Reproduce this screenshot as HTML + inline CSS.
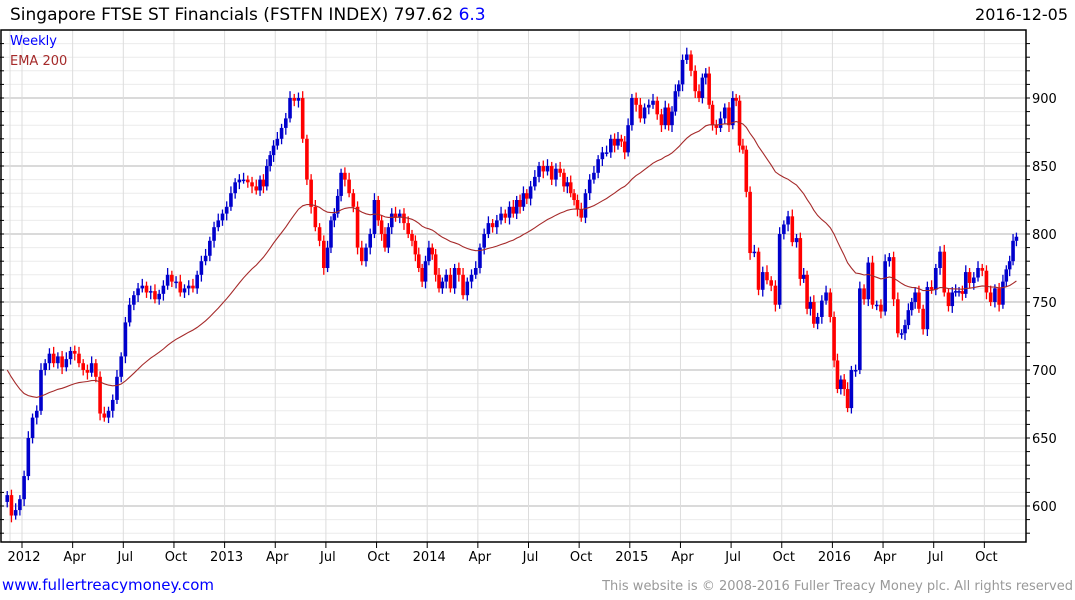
<!DOCTYPE html>
<html><head><meta charset="utf-8"><style>
body{margin:0;background:#fff;width:1075px;height:600px;overflow:hidden;font-family:"DejaVu Sans","Liberation Sans",sans-serif}
svg{display:block}
</style></head><body>
<svg id="chart" width="1075" height="600" viewBox="0 0 1075 600" xmlns="http://www.w3.org/2000/svg">
<text x="10" y="20" font-size="17" fill="#000">Singapore FTSE ST Financials (FSTFN INDEX) 797.62 <tspan fill="#0000ff">6.3</tspan></text>
<text x="1068" y="20" font-size="16" fill="#000" text-anchor="end">2016-12-05</text>
<g id="grid"></g>
<g id="marks"></g>
<rect x="1" y="30" width="1025" height="512" fill="none" stroke="#000" stroke-width="1.5"/>
<g id="axes"></g>
<text x="10" y="45" font-size="13" fill="#0000ff">Weekly</text>
<text x="10" y="65" font-size="13" fill="#a52a2a">EMA 200</text>
<text x="2" y="590" font-size="15" fill="#0000ff">www.fullertreacymoney.com</text>
<text x="1073" y="590" font-size="13" fill="#999" text-anchor="end">This website is © 2008-2016 Fuller Treacy Money plc. All rights reserved</text>
</svg>
<script>
// weekly closes grouped by month, starting Dec 2011
const monthCloses=[
[608,593,597,605],
[622,650,665,670],[700,705,712,705],[710,702,708,714],[712,705,700,698],[705,695,668,665],[670,678,695,710],
[735,748,755,760],[762,757,758,752],[756,762,770,765],[765,757,760,762],[760,770,780,784],[795,805,810,815],
[820,830,838,840],[840,838,835,832],[840,835,850,858,865],[870,878,885,900],[898,900,870,840],[820,805,795,775],
[790,810,815,828,845],[840,830,820,790],[780,790,800,825],[810,800,790,805,815],[812,815,808,800],[795,785,775,765,780],
[790,785,770,760,765],[770,760,775,770],[755,765,770,775],[790,800,808,805],[810,815,812,820],[815,825,820,830,826],
[835,842,850,846],[850,840,848,845],[835,838,830,825,818],[812,830,840,845],[855,860,860,870],[865,870,868,860,880],
[900,895,885,893],[895,898,888,880],[893,880,890,905,910],[928,932,920,905],[900,915,918,895,880],[878,885,893,880],
[900,898,865,862,831],[786,787,759,772],[766,762,748,800],[807,813,794,797],[767,770,745,750,734],[739,751,757,739],
[707,686,693,686,672],[700,700,760,752],[779,748,748,743],[780,783,752,727],[727,733,744,750,757],[745,730,761,759],
[775,787,757,747],[757,758,758,756,772],[764,768,775,773],[757,750,760,748],[765,774,780,795,798]
];
const firstOpen=603;
const emaSeed=700;
const yTicks=[600,650,700,750,800,850,900];
const xTickLabels=["2012","Apr","Jul","Oct","2013","Apr","Jul","Oct","2014","Apr","Jul","Oct","2015","Apr","Jul","Oct","2016","Apr","Jul","Oct"];

const NS="http://www.w3.org/2000/svg";
const PL=1,PR=1026,PT=30,PB=542,MW=50.65/3;
function y(v){return 98+(900-v)*68/50;}
function xq(q){return 22+q*50.65;}
function xm(m,j,len){return 22+(m-1)*MW+(j+0.5)*MW/len;} // m=0 is Dec 2011
function mk(tag,attrs,parent){const e=document.createElementNS(NS,tag);for(const k in attrs)e.setAttribute(k,attrs[k]);parent.appendChild(e);return e;}
const grid=document.getElementById('grid'),marks=document.getElementById('marks'),axes=document.getElementById('axes');
for(let v=580;v<=940;v+=10){const yy=y(v);if(yy<PT||yy>PB)continue;
 const major=v%50===0;
 const l=mk('line',{x1:PL,x2:PR,y1:yy,y2:yy,stroke:major?'#c4c4c4':'#ececec','stroke-width':major?1.3:1},grid);
 
 
 const t=mk('line',{x1:PR,x2:PR+4,y1:yy,y2:yy,stroke:'#000'},axes);
 
 
 const t2=mk('line',{x1:PL-3,x2:PL+3,y1:yy,y2:yy,stroke:'#000'},axes);
 
 
}
yTicks.forEach(v=>{const tx=mk('text',{x:PR+6,y:y(v)+5,'font-size':13,fill:'#000'},axes);tx.textContent=v;
 
 });
xTickLabels.forEach((lab,q)=>{const xx=xq(q);
 const l=mk('line',{x1:xx,x2:xx,y1:PT,y2:PB,stroke:'#dcdcdc'},grid);
 
 
 const t=mk('line',{x1:xx,x2:xx,y1:PB,y2:PB+6,stroke:'#000'},axes);
 
 
 const tx=mk('text',{x:xx+2,y:PB+19,'font-size':13,fill:'#000','text-anchor':'middle'},axes);tx.textContent=lab;
 
 });
const l0=mk('line',{x1:10,x2:10,y1:PT,y2:PB,stroke:'#dcdcdc'},grid);


let prev=firstOpen,e=emaSeed,d='',i=0;const a=2/41;
monthCloses.forEach((arr,m)=>{arr.forEach((c,j)=>{
 const o=prev;prev=c;const xx=xm(m,j,arr.length);
 const up=c>=o,col=up?'#0000cc':'#ff0000';
 const hi=Math.max(o,c)+3+(i%3),lo=Math.min(o,c)-3-((i+1)%3);
 const g=mk('g',{},marks);
 
 
 mk('line',{x1:xx,x2:xx,y1:y(hi),y2:y(lo),stroke:col,'stroke-width':1.3},g);
 const top=y(Math.max(o,c)),h=Math.max(1.5,Math.abs(y(o)-y(c)));
 mk('rect',{x:xx-1.8,y:top,width:3.6,height:h,fill:col},g);
 if(i>0)e=e+a*(c-e);
 d+=(i?'L':'M')+xx.toFixed(1)+','+y(e).toFixed(1);
 i++;
});});
const p=mk('path',{d:d,fill:'none',stroke:'#a52a2a','stroke-width':1.1},marks);


</script>
</body></html>
